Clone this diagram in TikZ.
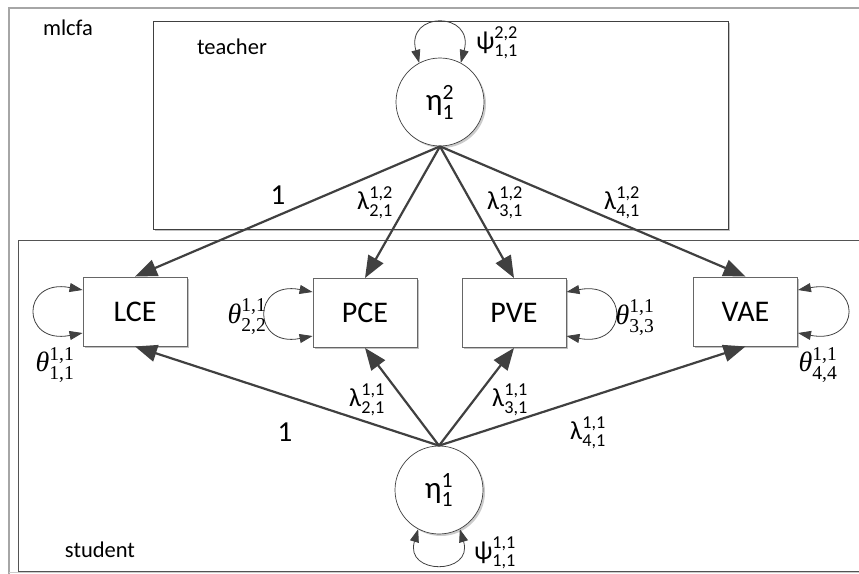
\documentclass[tikz,border=0pt]{standalone}
\usepackage{fontspec}
\usepackage{amsmath}
\setmainfont{Carlito}
\newfontfamily\serifit{Liberation Serif}
\usetikzlibrary{arrows.meta,shadows}
\definecolor{ln}{HTML}{404040}
\newcommand{\gk}[3]{$\text{#1}^{\text{#2}}_{\text{#3}}$}
\newcommand{\gketa}[2]{$\text{η}^{\text{\raisebox{2pt}{#1}}}_{\text{\raisebox{-1.5pt}{#2}}}$}
\newcommand{\thl}[2]{$\text{\serifit\itshape θ}^{\text{\serifit #1}}_{\text{\serifit #2}}$}
\begin{document}
\begin{tikzpicture}[x=1pt,y=1pt,
  obs/.style={draw=gray!80!black, line width=0.9pt, fill=white, minimum width=104pt, minimum height=69pt, inner sep=0pt, font=\fontsize{30}{34}\selectfont, drop shadow={shadow xshift=1.5pt, shadow yshift=-1.5pt, fill=gray!60, opacity=0.8}},
  lat/.style={circle, draw=ln, line width=0.7pt, fill=white, minimum size=88pt, inner sep=0pt, font=\fontsize{31}{34}\selectfont, drop shadow={shadow xshift=2pt, shadow yshift=-2pt, fill=gray!50, opacity=0.8}},
  load/.style={draw=ln, line width=2.2pt, -{Triangle[length=22pt,width=17pt]}},
  var/.style={draw=ln, line width=0.8pt, {Triangle[length=13pt,width=9pt]}-{Triangle[length=13pt,width=9pt]}},
  lbl/.style={font=\fontsize{26}{30}\selectfont, inner sep=0pt},
  thlbl/.style={font=\fontsize{28}{30}\selectfont, inner sep=0pt},
  one/.style={font=\fontsize{29}{32}\selectfont, inner sep=0pt},
  ttl/.style={font=\fontsize{22.5}{26}\selectfont, inner sep=0pt},
]
\useasboundingbox (0,0) rectangle (859,-573);
\clip (0,0) rectangle (859,-573);
% frames
\draw[gray!70, line width=1.3pt] (9,-8) rectangle (880,-590);
\draw[ln!90, line width=1pt] (18,-240) rectangle (880,-571);
\draw[gray!40, line width=1pt] (9,-572) -- (859,-572);
\filldraw[fill=white, draw=ln, line width=1pt, drop shadow={shadow xshift=1.5pt, shadow yshift=-1.5pt, fill=gray!60, opacity=0.8}] (153,-21) rectangle (728,-229);
% titles
\node[ttl] (tmlcfa) at (68,-28) {mlcfa};
\node[ttl] (tteacher) at (232,-47) {teacher};
\node[ttl] (tstudent) at (100,-550) {student};
% latent
\node[lat] (eta2) at (440,-102) {\gketa{2}{1}};
\node[lat] (eta1) at (439,-490) {\gketa{1}{1}};
% observed
\node[obs] (lce) at (135,-311.5) {LCE};
\node[obs] (pce) at (365,-313) {PCE};
\node[obs] (pve) at (514,-313) {PVE};
\node[obs] (vae) at (745.5,-311.5) {VAE};
% loadings teacher
\draw[load] (eta2.south) -- (lce.north);
\draw[load] (eta2.south) -- (pce.north);
\draw[load] (eta2.south) -- (pve.north);
\draw[load] (eta2.south) -- (vae.north);
% loadings student
\draw[load] (eta1.north) -- (lce.south);
\draw[load] (eta1.north) -- (pce.south);
\draw[load] (eta1.north) -- (pve.south);
\draw[load] (eta1.north) -- (vae.south);
% variances
\draw[var] (eta2.118) .. controls +(-14,52) and +(14,52) .. (eta2.62);
\draw[var] (eta1.242) .. controls +(-14,-46) and +(14,-46) .. (eta1.298);
\draw[var] ([yshift=21.5pt]lce.west) .. controls +(-62,12) and +(-62,-12) .. ([yshift=-21.5pt]lce.west);
\draw[var] ([yshift=21pt]pce.west) .. controls +(-61,12) and +(-61,-12) .. ([yshift=-23pt]pce.west);
\draw[var] ([yshift=21pt]pve.east) .. controls +(63,12) and +(63,-12) .. ([yshift=-23pt]pve.east);
\draw[var] ([yshift=21.5pt]vae.east) .. controls +(64,12) and +(64,-12) .. ([yshift=-21.5pt]vae.east);
% labels
\node[lbl] (lpsi2) at (497,-43) {\gk{ψ}{2,2}{1,1}};
\node[lbl] (lpsi1) at (495,-553) {\gk{ψ}{1,1}{1,1}};
\node[one] (lone2) at (278,-195) {1};
\node[lbl] (ll22) at (375,-203) {\gk{λ}{1,2}{2,1}};
\node[lbl] (ll32) at (505,-203) {\gk{λ}{1,2}{3,1}};
\node[lbl] (ll42) at (622,-203) {\gk{λ}{1,2}{4,1}};
\node[one] (lone1) at (285,-432) {1};
\node[lbl] (ll21) at (367,-400) {\gk{λ}{1,1}{2,1}};
\node[lbl] (ll31) at (510,-400) {\gk{λ}{1,1}{3,1}};
\node[lbl] (ll41) at (588,-433) {\gk{λ}{1,1}{4,1}};
\node[thlbl] (lt11) at (55,-365) {\thl{1,1}{1,1}};
\node[thlbl] (lt22) at (247,-317) {\thl{1,1}{2,2}};
\node[thlbl] (lt33) at (635,-318) {\thl{1,1}{3,3}};
\node[thlbl] (lt44) at (818,-365) {\thl{1,1}{4,4}};
\end{tikzpicture}
\end{document}
